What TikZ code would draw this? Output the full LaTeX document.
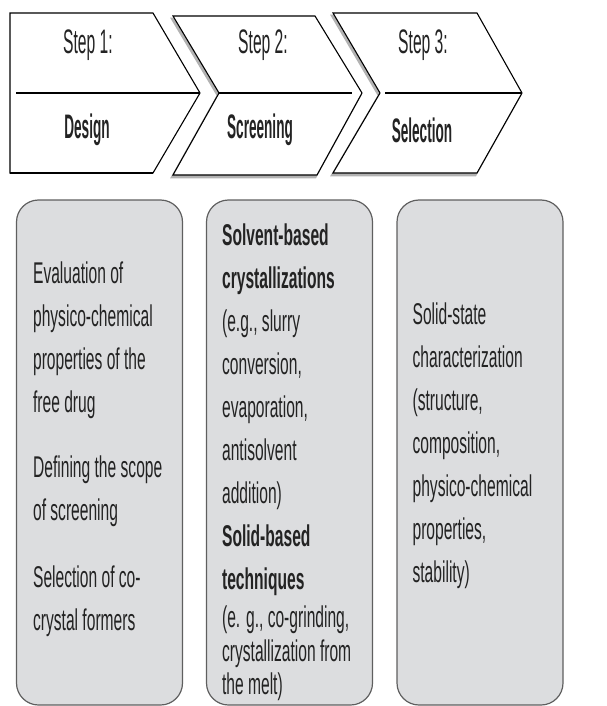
\documentclass[tikz,border=0pt]{standalone}
\usepackage{fontspec}
\setmainfont{Liberation Sans}
\newfontfamily\headfont{Liberation Sans}[FakeStretch=0.46]
\newfontfamily\headboldfont{Liberation Sans}[FakeStretch=0.40]
\newfontfamily\bodyfont{Liberation Sans}[FakeStretch=0.52]
\usetikzlibrary{positioning}
\definecolor{boxgray}{RGB}{220,221,223}
\definecolor{edgegray}{RGB}{95,95,95}
\definecolor{inkgray}{RGB}{35,35,35}
\tikzset{
    %Define style for the arrow shaped headers
    chevron/.style={
             draw=black, line width=1.1pt,
             fill=white},
    chevronshadow/.style={
             draw=black!30, line width=1.6pt,
             fill=black!30},
    divider/.style={
             draw=black, line width=1.3pt},
    % Define style for header texts
    stepnode/.style={
             inner sep=0pt, text=inkgray,
             font=\headfont\fontsize{34}{36}\selectfont},
    titlenode/.style={
             inner sep=0pt, text=inkgray,
             font=\headboldfont\bfseries\fontsize{34}{36}\selectfont},
    % Define style for the boxes below
    stagebox/.style={
             rectangle, rounded corners=22pt,
             draw=edgegray, line width=1.2pt,
             fill=boxgray,
             minimum width=166pt, minimum height=505pt,
             inner sep=0pt},
    stagetext/.style={
             align=left, inner sep=0pt, text=inkgray,
             font=\bodyfont\fontsize{30}{43}\selectfont}
}
\begin{document}
\begin{tikzpicture}[x=1pt, y=-1pt]
    \useasboundingbox (0,0) rectangle (607,706);
    % headers
    \draw[chevronshadow] (171.5,18.5) -- (313.5,18.5) -- (360.5,95.5) -- (315.5,177.5)
        -- (171.5,177.5) -- (217.5,95.5) -- cycle;
    \draw[chevronshadow] (331.5,15.5) -- (475.5,15.5) -- (520.5,95.5) -- (475.5,175.5)
        -- (331.5,175.5) -- (378.5,95.5) -- cycle;
    \draw[chevron] (10,13) -- (153,13) -- (200,93) -- (153,173) -- (10,173) -- cycle;
    \draw[chevron] (173,16) -- (315,16) -- (362,93) -- (317,175) -- (173,175) -- (219,93) -- cycle;
    \draw[chevron] (333,13) -- (477,13) -- (522,93) -- (477,173) -- (333,173) -- (380,93) -- cycle;
    \draw[black, line width=2pt] (10,173) -- (153,173);
    \draw[divider] (16,93) -- (200,93);
    \draw[divider] (219,93) -- (352,93);
    \draw[divider] (385,93) -- (522,93);
    \node[stepnode] (step1) at (88,45) {Step 1:};
    \node[stepnode] (step2) at (263,45) {Step 2:};
    \node[stepnode] (step3) at (423,45) {Step 3:};
    \node[titlenode] (design) at (87,130) {Design};
    \node[titlenode] (screening) at (260,130) {Screening};
    \node[titlenode] (selection) at (422,130) {Selection};
    % boxes
    \node[stagebox] (box1) at (99.5,452.5) {};
    \node[stagebox] (box2) at (289.5,452.5) {};
    \node[stagebox] (box3) at (480,452.5) {};
    \node[stagetext, anchor=west, right=17pt of box1.west, yshift=3pt] (designtext)
        {Evaluation of\\physico-chemical\\properties of the\\free drug\\[22pt]
         Defining the scope\\of screening\\[24pt]Selection of co-\\crystal formers};
    \node[stagetext, below right=24pt and 16pt of box2.north west] (screeningtext)
        {\textbf{Solvent-based}\\\textbf{crystallizations}\\(e.g., slurry\\conversion,\\
         evaporation,\\antisolvent\\addition)\\\textbf{Solid-based}\\\textbf{techniques}\\[-5pt]
         (e. g., co-grinding,\\[-9pt]crystallization from\\[-10pt]the melt)};
    \node[stagetext, anchor=west, right=16pt of box3.west, yshift=7pt] (selectiontext)
        {Solid-state\\characterization\\(structure,\\composition,\\physico-chemical\\
         properties,\\stability)};
\end{tikzpicture}
\end{document}
